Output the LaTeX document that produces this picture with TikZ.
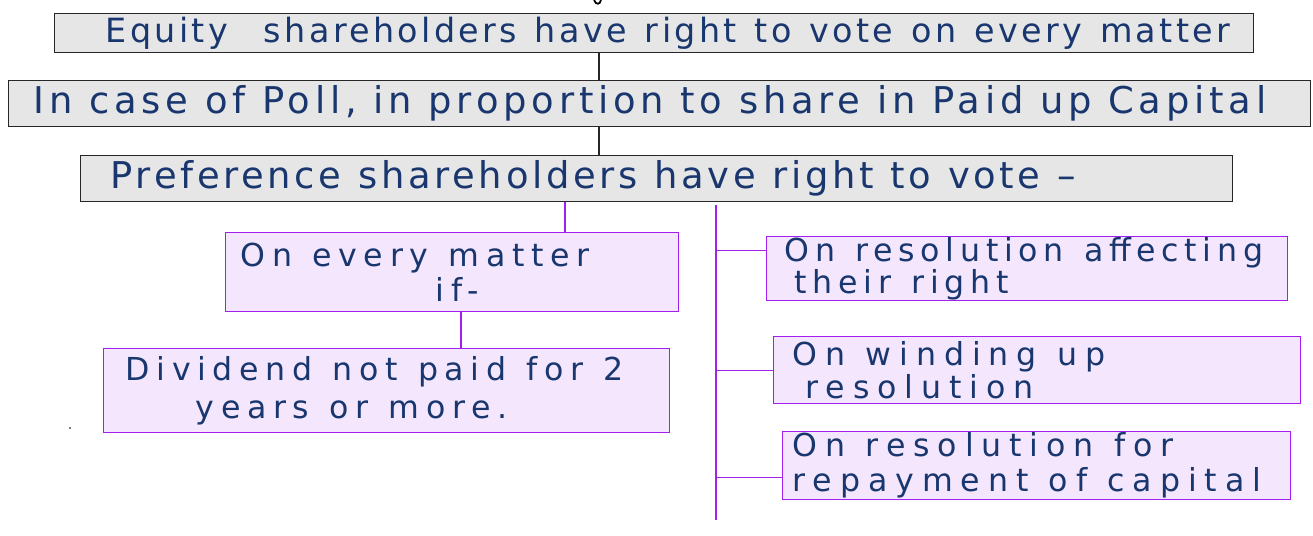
\documentclass[tikz,border=0pt]{standalone}
\usepackage{fontspec}
\setsansfont{DejaVu Sans}
\usetikzlibrary{positioning, calc}

\definecolor{ink}{RGB}{25,55,110}
\definecolor{boxgray}{RGB}{230,230,230}
\definecolor{vio}{RGB}{165,30,240}
\definecolor{lilac}{RGB}{243,230,253}

% wider gaps between handwritten words
\newcommand{\wordgap}[1]{\spaceskip #1em\relax}

\begin{document}
\begin{tikzpicture}[
    x=0.02cm, y=-0.02cm,
    font=\sffamily,
    % Grey statement boxes (top three rows)
    topbox/.style={
        rectangle, draw=black!85, fill=boxgray, line width=0.8pt,
        anchor=north west, align=left, inner xsep=0.1cm, inner ysep=0pt, text=ink,
        font={\sffamily\fontsize{21}{24}\selectfont}
    },
    % Lilac condition boxes
    subbox/.style={
        rectangle, draw=vio, fill=lilac, line width=0.8pt,
        anchor=north west, align=left, inner xsep=0.1cm, inner ysep=0pt, text=ink,
        font={\sffamily\fontsize{18}{20}\selectfont\addfontfeature{LetterSpace=21}}
    },
    % Connectors
    stemline/.style={draw=black!85, line width=0.6pt},
    link/.style={draw=vio, line width=0.8pt}
]
    \useasboundingbox (0,0) rectangle (1313,535);

    % =========================================================================
    % Top rows: equity and preference voting
    % =========================================================================
    \node[topbox, minimum width=23.98cm, minimum height=0.78cm, text width=23.78cm] (equity) at (54,13)
        {\fontsize{19}{22}\selectfont\addfontfeature{LetterSpace=10}\wordgap{0.54}%
         \hspace*{0.92cm}Equity\ \ shareholders have right to vote on every matter};

    \node[topbox, minimum width=26.04cm, minimum height=0.92cm, text width=25.84cm] (poll) at (8,80)
        {\addfontfeature{LetterSpace=13}\wordgap{0.45}\hspace*{0.4cm}In case of Poll, in proportion to share in Paid up Capital};

    \node[topbox, minimum width=23.04cm, minimum height=0.92cm, text width=22.84cm] (pref) at (80,155)
        {\addfontfeature{LetterSpace=10}\wordgap{0.45}\hspace*{0.5cm}Preference shareholders have right to vote –};

    % =========================================================================
    % Left branch: every matter if dividend unpaid
    % =========================================================================
    \node[subbox, minimum width=9.06cm, minimum height=1.58cm, text width=8.86cm] (every) at (225,232)
        {\wordgap{0.64}\hspace*{0.2cm}On every matter\\ \hspace*{4.1cm}if-};

    \node[subbox, minimum width=11.32cm, minimum height=1.68cm, text width=11.12cm] (dividend) at (103,348)
        {\wordgap{0.64}\hspace*{0.34cm}Dividend not paid for 2\\[2pt] \hspace*{1.74cm}years or more.};

    % =========================================================================
    % Right branch: particular resolutions
    % =========================================================================
    \node[subbox, minimum width=10.42cm, minimum height=1.28cm, text width=10.22cm] (affect) at (766,236)
        {\addfontfeature{LetterSpace=18}\wordgap{0.64}\hspace*{0.26cm}On resolution affecting\\[-2pt] \hspace*{0.46cm}their right};

    \node[subbox, minimum width=10.54cm, minimum height=1.34cm, text width=10.34cm] (winding) at (773,336)
        {\addfontfeature{LetterSpace=25}\wordgap{0.64}\hspace*{0.28cm}On winding up\\[-1pt] \hspace*{0.54cm}resolution};

    \node[subbox, minimum width=10.16cm, minimum height=1.36cm, text width=9.96cm] (repay) at (782,431)
        {\addfontfeature{LetterSpace=25}\wordgap{0.64}\hspace*{0.1cm}On resolution for\\ \hspace*{0.1cm}repayment of capital};

    % =========================================================================
    % Connectors
    % =========================================================================
    \coordinate (stem) at (599,0);
    \coordinate (leftx) at (565,0);
    \coordinate (ifx) at (461,0);
    \coordinate (spinetop) at (716,205);
    \coordinate (spinebot) at (716,520);
    \coordinate (affectin) at ([yshift=0.36cm]affect.west);
    \coordinate (repayin) at ([yshift=-0.24cm]repay.west);

    \draw[stemline] (equity.south -| stem) -- (poll.north -| stem);
    \draw[stemline] (poll.south -| stem) -- (pref.north -| stem);

    \draw[link] (pref.south -| leftx) -- (every.north -| leftx);
    \draw[link] (every.south -| ifx) -- (dividend.north -| ifx);

    \draw[link] (spinetop) -- (spinebot);
    \draw[link] (spinetop |- affectin) -- (affectin);
    \draw[link] (spinetop |- winding.west) -- (winding.west);
    \draw[link] (spinetop |- repayin) -- (repayin);

    % stray pen marks
    \draw[black, line width=1pt] (594,0) .. controls (596,5) and (600,5) .. (601,0);
    \fill[black!70] (70,428) circle (0.6pt);

\end{tikzpicture}
\end{document}
